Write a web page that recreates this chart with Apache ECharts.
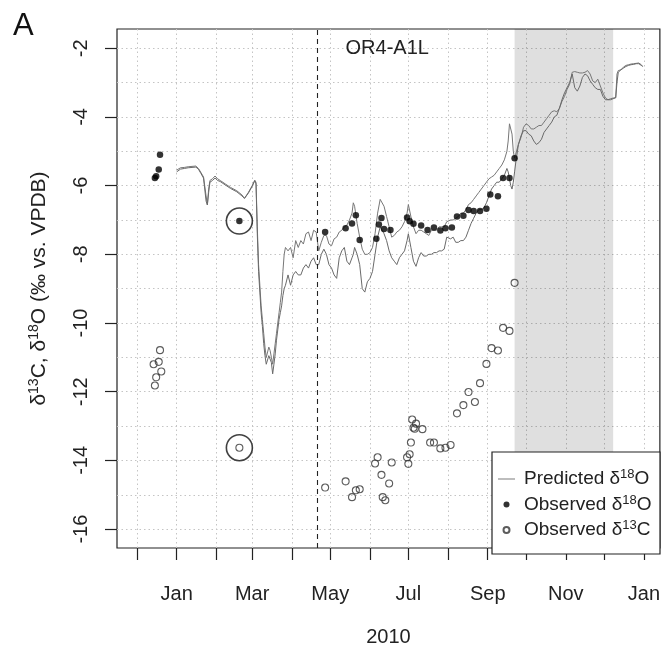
<!DOCTYPE html>
<html><head><meta charset="utf-8">
<script src="https://cdn.jsdelivr.net/npm/echarts@6/dist/echarts.min.js"></script>
<style>html,body{margin:0;padding:0;background:#fff}#c{width:663px;height:652px}</style>
</head><body><div id="c"></div>
<script>
// ---------------- DATA ----------------
// Predicted δ18O, two model runs, sampled at days since 2010-01-01
const predDay = [0,3,6,9,12,15,17,19,21,23,24,25,26,28,30,32,34,38,42,47,51,53,56,59,61,
  62,63,64,65,66,67,68,69,70,71,72,73,74,75,76,77,78,79,80,81,82,83,84,85,
  87,89,91,93,95,97,99,101,103,105,107,109,111,113,115,117,119,121,123,125,127,129,131,133,135,137,138,139,141,143,145,147,149,151,153,155,157,159,160,162,164,166,168,170,172,174,176,178,180,181,183,185,187,189,191,193,195,197,199,201,203,205,207,209,
  211,214,216,218,220,222,224,226,228,230,232,234,236,238,240,242,244,246,248,250,252,254,256,258,259,260,261,262,263,264,265,267,269,271,273,275,277,279,281,283,285,287,289,291,293,295,297,299,301,303,305,307,309,311,313,315,317,319,321,323,325,327,329,331,333,335,337,339,341,343,344,345,347,349,351,353,355,357,359,361,363,364];
const predA = [-5.55,-5.48,-5.47,-5.45,-5.44,-5.43,-5.50,-5.62,-5.75,-6.30,-6.56,-6.10,-5.85,-5.80,-5.72,-5.80,-5.85,-5.95,-6.05,-6.15,-6.27,-6.37,-6.20,-6.00,-5.84,
  -5.90,-7.20,-8.30,-8.90,-9.50,-9.90,-10.30,-10.70,-11.00,-10.95,-10.70,-10.80,-11.00,-11.20,-10.90,-10.60,-10.30,-10.00,-9.70,-9.40,-9.10,-8.50,-8.00,-7.80,
  -7.90,-7.80,-8.10,-7.60,-7.80,-7.60,-7.70,-7.40,-7.35,-7.60,-7.30,-7.35,-7.90,-7.65,-7.45,-7.45,-7.70,-7.75,-7.55,-7.50,-7.35,-7.30,-7.20,-7.15,-7.00,-6.80,-6.50,-6.60,-7.10,-7.50,-7.85,-8.00,-8.00,-7.95,-7.80,-7.40,-6.80,-6.40,-6.35,-6.60,-6.90,-7.20,-7.50,-7.45,-7.35,-7.30,-7.20,-7.05,-6.80,-6.55,-6.90,-7.20,-7.40,-7.30,-7.30,-7.35,-7.40,-7.45,-7.30,-7.30,-7.30,-7.20,-7.20,-7.20,
  -7.05,-7.00,-7.00,-6.95,-6.90,-6.80,-6.80,-6.70,-6.55,-6.50,-6.40,-6.30,-6.20,-6.10,-6.00,-5.90,-5.80,-5.75,-5.70,-5.60,-5.50,-5.40,-5.25,-5.00,-4.70,-4.20,-4.20,-4.50,-5.00,-5.20,-5.20,-4.80,-4.60,-4.30,-4.20,-4.25,-4.35,-4.35,-4.30,-4.25,-4.25,-4.15,-4.05,-3.95,-3.85,-3.82,-3.85,-3.75,-3.55,-3.40,-3.20,-3.05,-2.70,-2.68,-2.70,-2.72,-2.72,-2.70,-2.65,-2.75,-2.95,-3.00,-2.90,-3.10,-3.30,-3.45,-3.50,-3.47,-3.45,-3.44,-2.75,-2.65,-2.63,-2.55,-2.50,-2.48,-2.46,-2.45,-2.44,-2.43,-2.48,-2.53];
const predB = [-5.60,-5.52,-5.50,-5.48,-5.47,-5.46,-5.52,-5.65,-5.78,-6.45,-6.56,-6.20,-5.90,-5.85,-5.78,-5.85,-5.88,-5.98,-6.08,-6.18,-6.30,-6.37,-6.22,-6.02,-5.86,
  -5.95,-7.40,-8.50,-9.10,-9.70,-10.10,-10.60,-10.95,-11.20,-11.25,-10.95,-11.00,-11.15,-11.48,-11.20,-10.90,-10.50,-10.20,-9.90,-9.70,-9.50,-9.20,-9.00,-8.90,
  -8.60,-8.90,-8.60,-8.50,-8.60,-8.60,-8.40,-8.30,-8.40,-8.20,-8.10,-8.30,-8.30,-8.00,-7.85,-8.00,-8.30,-8.40,-8.60,-8.70,-8.10,-7.90,-7.80,-8.20,-8.30,-8.10,-8.00,-7.80,-8.00,-8.30,-9.00,-9.10,-8.80,-8.70,-8.50,-8.00,-7.50,-7.20,-7.15,-7.40,-7.60,-7.90,-8.10,-8.20,-8.30,-8.10,-8.00,-7.90,-7.60,-7.40,-7.80,-8.20,-8.35,-8.10,-7.95,-8.05,-8.05,-8.00,-8.00,-7.95,-7.95,-7.90,-7.90,-7.85,
  -7.50,-7.55,-7.50,-7.65,-7.65,-7.60,-7.60,-7.50,-7.30,-7.10,-6.95,-6.80,-6.70,-6.70,-6.65,-6.50,-6.30,-6.10,-6.00,-5.90,-5.90,-5.80,-5.70,-5.50,-5.60,-5.80,-6.00,-6.10,-5.90,-5.60,-5.30,-4.80,-4.55,-4.40,-4.40,-4.50,-4.55,-4.70,-4.80,-4.75,-4.65,-4.45,-4.35,-4.25,-4.15,-4.00,-3.95,-3.75,-3.50,-3.30,-3.15,-3.00,-2.75,-3.15,-3.25,-3.10,-2.85,-2.75,-2.80,-2.95,-3.05,-3.15,-3.20,-3.20,-3.40,-3.50,-3.50,-3.50,-3.47,-3.44,-3.00,-2.70,-2.63,-2.58,-2.53,-2.50,-2.48,-2.47,-2.45,-2.45,-2.50,-2.53];

// Observed δ18O
const obsO18Date = ['2009-12-15','2009-12-16','2009-12-18','2009-12-19','2010-02-19',
  '2010-04-27','2010-05-13','2010-05-18','2010-05-21','2010-05-24','2010-06-06','2010-06-08','2010-06-10','2010-06-12','2010-06-17',
  '2010-06-30','2010-07-02','2010-07-05','2010-07-11','2010-07-16','2010-07-21','2010-07-26','2010-07-30','2010-08-04','2010-08-08',
  '2010-08-13','2010-08-17','2010-08-21','2010-08-26','2010-08-31','2010-09-03','2010-09-09','2010-09-13','2010-09-18','2010-09-22'];
const obsO18 = [-5.78,-5.73,-5.53,-5.10,-7.03,
  -7.35,-7.24,-7.10,-6.86,-7.58,-7.55,-7.13,-6.94,-7.26,-7.29,
  -6.93,-7.04,-7.11,-7.16,-7.29,-7.22,-7.31,-7.24,-7.22,-6.90,
  -6.88,-6.71,-6.74,-6.74,-6.67,-6.26,-6.31,-5.78,-5.78,-5.20];

// Observed δ13C
const obsC13Date = ['2009-12-14','2009-12-15','2009-12-16','2009-12-18','2009-12-19','2009-12-20','2010-02-19',
  '2010-04-27','2010-05-13','2010-05-18','2010-05-21','2010-05-24','2010-06-05','2010-06-07','2010-06-10','2010-06-11','2010-06-13','2010-06-16','2010-06-18',
  '2010-06-30','2010-07-01','2010-07-02','2010-07-03','2010-07-04','2010-07-05','2010-07-06','2010-07-07','2010-07-12','2010-07-18','2010-07-21',
  '2010-07-26','2010-07-30','2010-08-03','2010-08-08','2010-08-13','2010-08-17','2010-08-22','2010-08-26','2010-08-31','2010-09-04',
  '2010-09-09','2010-09-13','2010-09-18','2010-09-22'];
const obsC13 = [-11.20,-11.82,-11.58,-11.13,-10.79,-11.41,-13.63,
  -14.79,-14.61,-15.07,-14.87,-14.84,-14.09,-13.91,-14.42,-15.07,-15.16,-14.67,-14.06,
  -13.91,-14.10,-13.82,-13.48,-12.81,-13.05,-13.08,-12.93,-13.09,-13.48,-13.48,
  -13.65,-13.63,-13.55,-12.63,-12.39,-12.01,-12.30,-11.75,-11.19,-10.73,
  -10.80,-10.14,-10.23,-8.83];

// Flagged (circled) sample
const flaggedDate = '2010-02-19';
const flaggedO18 = -7.03;
const flaggedC13 = -13.63;

// Annotations
const siteChangeDate = '2010-04-21';
const siteLabel = 'OR4-A1L';
const siteLabelY = -2.0;
const shadeStart = '2010-09-22';
const shadeEnd = '2010-12-08';

// Axis ticks / labels
const monthTickDates = ['2009-12-01','2010-01-01','2010-02-01','2010-03-01','2010-04-01','2010-05-01','2010-06-01',
  '2010-07-01','2010-08-01','2010-09-01','2010-10-01','2010-11-01','2010-12-01','2011-01-01'];
const monthLabelDates = ['2010-01-01','2010-03-01','2010-05-01','2010-07-01','2010-09-01','2010-11-01','2011-01-01'];
const monthLabelNames = ['Jan','Mar','May','Jul','Sep','Nov','Jan'];
const yTickValues = [-16,-14,-12,-10,-8,-6,-4,-2];
const yGridValues = [-16,-15,-14,-13,-12,-11,-10,-9,-8,-7,-6,-5,-4,-3,-2];

// ---------------- CHART ----------------
const FONT = "'Liberation Sans', Arial, sans-serif";
// x axis: days since 2010-01-01 (UTC day arithmetic)
function day(s){ const p = s.split('-').map(Number); return Math.round((Date.UTC(p[0], p[1]-1, p[2]) - Date.UTC(2010,0,1)) / 86400000); }

const predAData = predDay.map((d,i) => [d, predA[i]]);
const predBData = predDay.map((d,i) => [d, predB[i]]);
const o18Data = obsO18Date.map((s,i) => [day(s), obsO18[i]]);
const c13Data = obsC13Date.map((s,i) => [day(s), obsC13[i]]);
const labelDays = monthLabelDates.map(day);

const PRED = 'Predicted δ18O', OO = 'Observed δ18O', OC = 'Observed δ13C';
const legendRich = {
  [PRED]: '{p|Predicted δ}{s|18}{a|O}',
  [OO]: '{p|Observed δ}{s|18}{a|O}',
  [OC]: '{p|Observed δ}{s|13}{a|C}'
};
const rich = {
  p: {fontSize: 19, fontFamily: FONT, color: '#222', lineHeight: 22, padding: [0,0,0,4]},
  a: {fontSize: 19, fontFamily: FONT, color: '#222', lineHeight: 22},
  s: {fontSize: 13, fontFamily: FONT, color: '#222', verticalAlign: 'top', lineHeight: 12}
};

const chart = echarts.init(document.getElementById('c'), null, {renderer: 'canvas'});
chart.setOption({
  animation: false,
  backgroundColor: '#fff',
  title: {text: 'A', left: 8, top: 6, textStyle: {fontSize: 31, fontWeight: 'normal', fontFamily: FONT, color: '#111'}},
  grid: {left: 117, right: 3, top: 29, bottom: 98, show: true, borderColor: '#222', borderWidth: 1.2, backgroundColor: 'transparent'},
  xAxis: {
    type: 'value',
    min: -46.6, max: 377.5,
    name: '2010', nameLocation: 'middle', nameGap: 79,
    nameTextStyle: {fontSize: 20, fontFamily: FONT, color: '#222'},
    axisLine: {show: false, onZero: false},
    axisTick: {show: true, length: 12, lineStyle: {color: '#222', width: 1.2}, customValues: monthTickDates.map(day)},
    axisLabel: {fontSize: 20, fontFamily: FONT, color: '#222', margin: 36, customValues: labelDays,
      formatter: function(v){ let best = 0, bd = Infinity; labelDays.forEach((ld,i)=>{ const d=Math.abs(ld-v); if(d<bd){bd=d;best=i;} }); return monthLabelNames[best]; }},
    splitLine: {show: true, lineStyle: {type: [1.5, 3], color: '#c4c4c4', width: 1}}
  },
  yAxis: [{
    type: 'value', min: -16.55, max: -1.44,
    name: '{a|δ}{s|13}{a|C, δ}{s|18}{a|O (‰ vs. VPDB)}', nameLocation: 'middle', nameGap: 66,
    nameTextStyle: {fontFamily: FONT, rich: {
      a: {fontSize: 21, fontFamily: FONT, color: '#222', lineHeight: 24},
      s: {fontSize: 14, fontFamily: FONT, color: '#222', verticalAlign: 'top', lineHeight: 13}}},
    axisLine: {show: false, onZero: false},
    axisTick: {show: true, length: 12, lineStyle: {color: '#222', width: 1.2}, customValues: yTickValues},
    axisLabel: {fontSize: 20, fontFamily: FONT, color: '#222', rotate: 90, margin: 26, customValues: yTickValues},
    splitLine: {show: false}
  }, {
    type: 'value', min: -16.55, max: -1.44, position: 'left',
    axisLine: {show: false, onZero: false}, axisLabel: {show: false},
    axisTick: {show: false, customValues: yGridValues},
    splitLine: {show: true, lineStyle: {type: [1.5, 3], color: '#c4c4c4', width: 1}}
  }],
  legend: {
    orient: 'vertical', left: 498, top: 468, itemGap: 5, padding: 0,
    itemWidth: 17, itemHeight: 6, z: 60,
    data: [
      {name: PRED, icon: 'path://M0,0L17,0L17,1.3L0,1.3Z', itemStyle: {color: '#9a9a9a'}},
      {name: OO}, {name: OC}],
    formatter: n => legendRich[n],
    textStyle: {fontFamily: FONT, rich: rich}
  },
  graphic: [{type: 'rect', z: 50, shape: {x: 492, y: 452, width: 168, height: 102},
    style: {fill: '#fff', stroke: '#222', lineWidth: 1.2}}],
  series: [
    {type: 'line', name: 'annot', data: [[day(siteChangeDate), siteLabelY]], symbolSize: 0.1, showSymbol: true, z: 3,
      itemStyle: {color: 'transparent'},
      label: {show: true, position: 'right', distance: 27, formatter: siteLabel, fontSize: 20, fontFamily: FONT, color: '#222'},
      markLine: {silent: true, symbol: 'none', label: {show: false},
        lineStyle: {type: [5, 4], color: '#222', width: 1.1},
        data: [{xAxis: day(siteChangeDate)}]},
      markArea: {silent: true, itemStyle: {color: 'rgba(0,0,0,0.125)'},
        data: [[{xAxis: day(shadeStart)}, {xAxis: day(shadeEnd)}]]}
    },
    {type: 'line', name: PRED, data: predAData, showSymbol: false, symbol: 'none', z: 4,
      lineStyle: {color: '#777', width: 1}, itemStyle: {color: '#999'}},
    {type: 'line', name: PRED, data: predBData, showSymbol: false, symbol: 'none', z: 4,
      lineStyle: {color: '#6a6a6a', width: 1}, itemStyle: {color: '#999'}},
    {type: 'scatter', name: OO, data: o18Data, symbol: 'circle', symbolSize: 6.5, z: 6,
      itemStyle: {color: '#000'}},
    {type: 'scatter', name: OC, data: c13Data, symbol: 'circle', symbolSize: 7, z: 6,
      itemStyle: {color: 'rgba(255,255,255,0)', borderColor: '#333', borderWidth: 1.1}},
    {type: 'scatter', name: 'flagged', data: [[day(flaggedDate), flaggedO18], [day(flaggedDate), flaggedC13]],
      symbol: 'circle', symbolSize: 26, z: 5,
      itemStyle: {color: 'rgba(255,255,255,0)', borderColor: '#111', borderWidth: 1.6}}
  ]
});
</script></body></html>
